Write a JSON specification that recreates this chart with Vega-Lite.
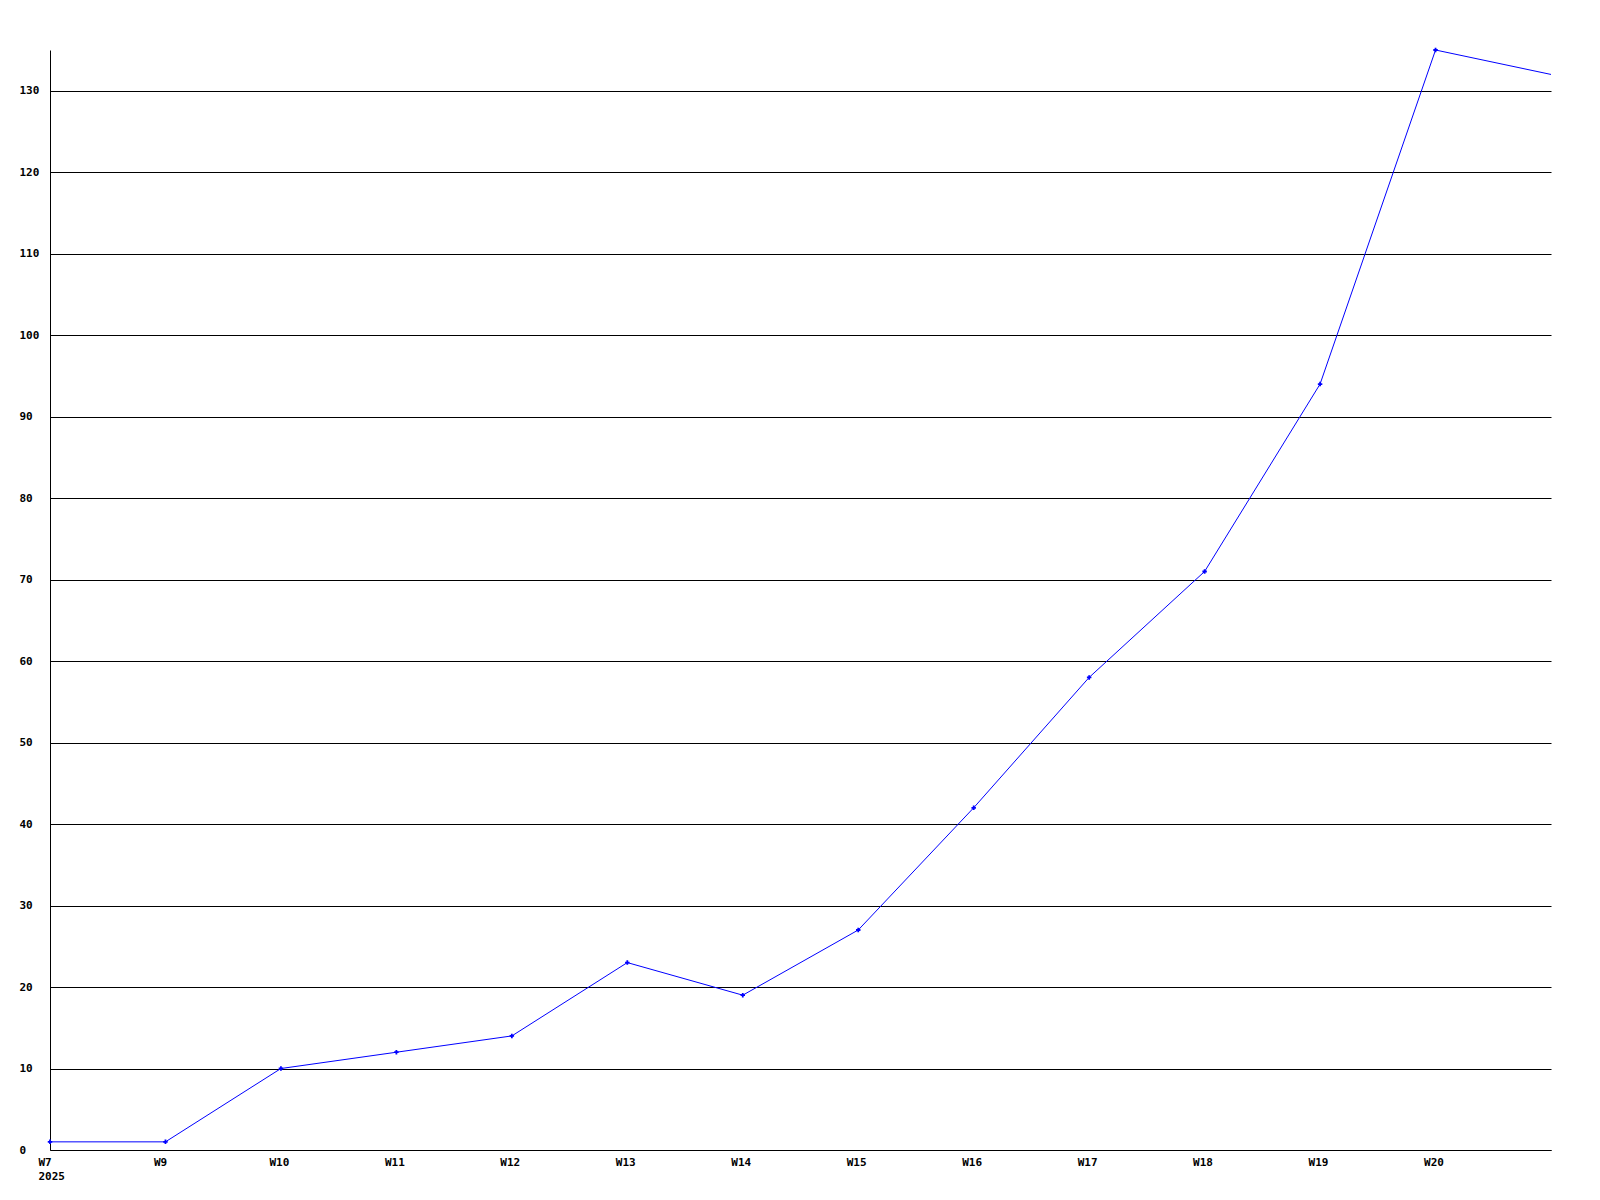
{
  "$schema": "https://vega.github.io/schema/vega-lite/v6.json",
  "autosize": {"type": "none"},
  "padding": {"left": 50, "top": 50, "right": 49, "bottom": 50},
  "width": 1501,
  "height": 1100,
  "background": "white",
  "config": {
    "view": {"stroke": null},
    "axis": {
      "labelFont": "DejaVu Sans Mono",
      "labelFontWeight": "bold",
      "labelFontSize": 11,
      "labelColor": "black",
      "domainColor": "black",
      "domainWidth": 1,
      "ticks": false,
      "title": null
    }
  },
  "data": {
    "values": [
      {"week": "W7", "value": 1},
      {"week": "W9", "value": 1},
      {"week": "W10", "value": 10},
      {"week": "W11", "value": 12},
      {"week": "W12", "value": 14},
      {"week": "W13", "value": 23},
      {"week": "W14", "value": 19},
      {"week": "W15", "value": 27},
      {"week": "W16", "value": 42},
      {"week": "W17", "value": 58},
      {"week": "W18", "value": 71},
      {"week": "W19", "value": 94},
      {"week": "W20", "value": 135},
      {"week": "W21", "value": 132}
    ]
  },
  "encoding": {
    "x": {
      "field": "week",
      "type": "ordinal",
      "sort": null,
      "scale": {"type": "point", "padding": 0},
      "axis": {
        "values": ["W7","W9","W10","W11","W12","W13","W14","W15","W16","W17","W18","W19","W20"],
        "labelAngle": 0,
        "labelAlign": "left",
        "labelOffset": -12,
        "labelPadding": 6,
        "labelBaseline": "top",
        "labelLineHeight": 14,
        "labelExpr": "datum.value == 'W7' ? ['W7', '2025'] : datum.label",
        "grid": false
      }
    },
    "y": {
      "field": "value",
      "type": "quantitative",
      "scale": {"domain": [0, 135], "nice": false, "zero": true},
      "axis": {
        "values": [0,10,20,30,40,50,60,70,80,90,100,110,120,130],
        "grid": true,
        "gridColor": "black",
        "gridOpacity": 1,
        "gridWidth": 1,
        "labelAlign": "left",
        "labelPadding": 31
      }
    }
  },
  "layer": [
    {"mark": {"type": "line", "color": "#0000ff", "strokeWidth": 1}},
    {
      "transform": [{"filter": "datum.week != 'W21'"}],
      "mark": {"type": "point", "shape": "cross", "filled": true, "color": "#0000ff", "size": 20, "opacity": 1}
    }
  ]
}
